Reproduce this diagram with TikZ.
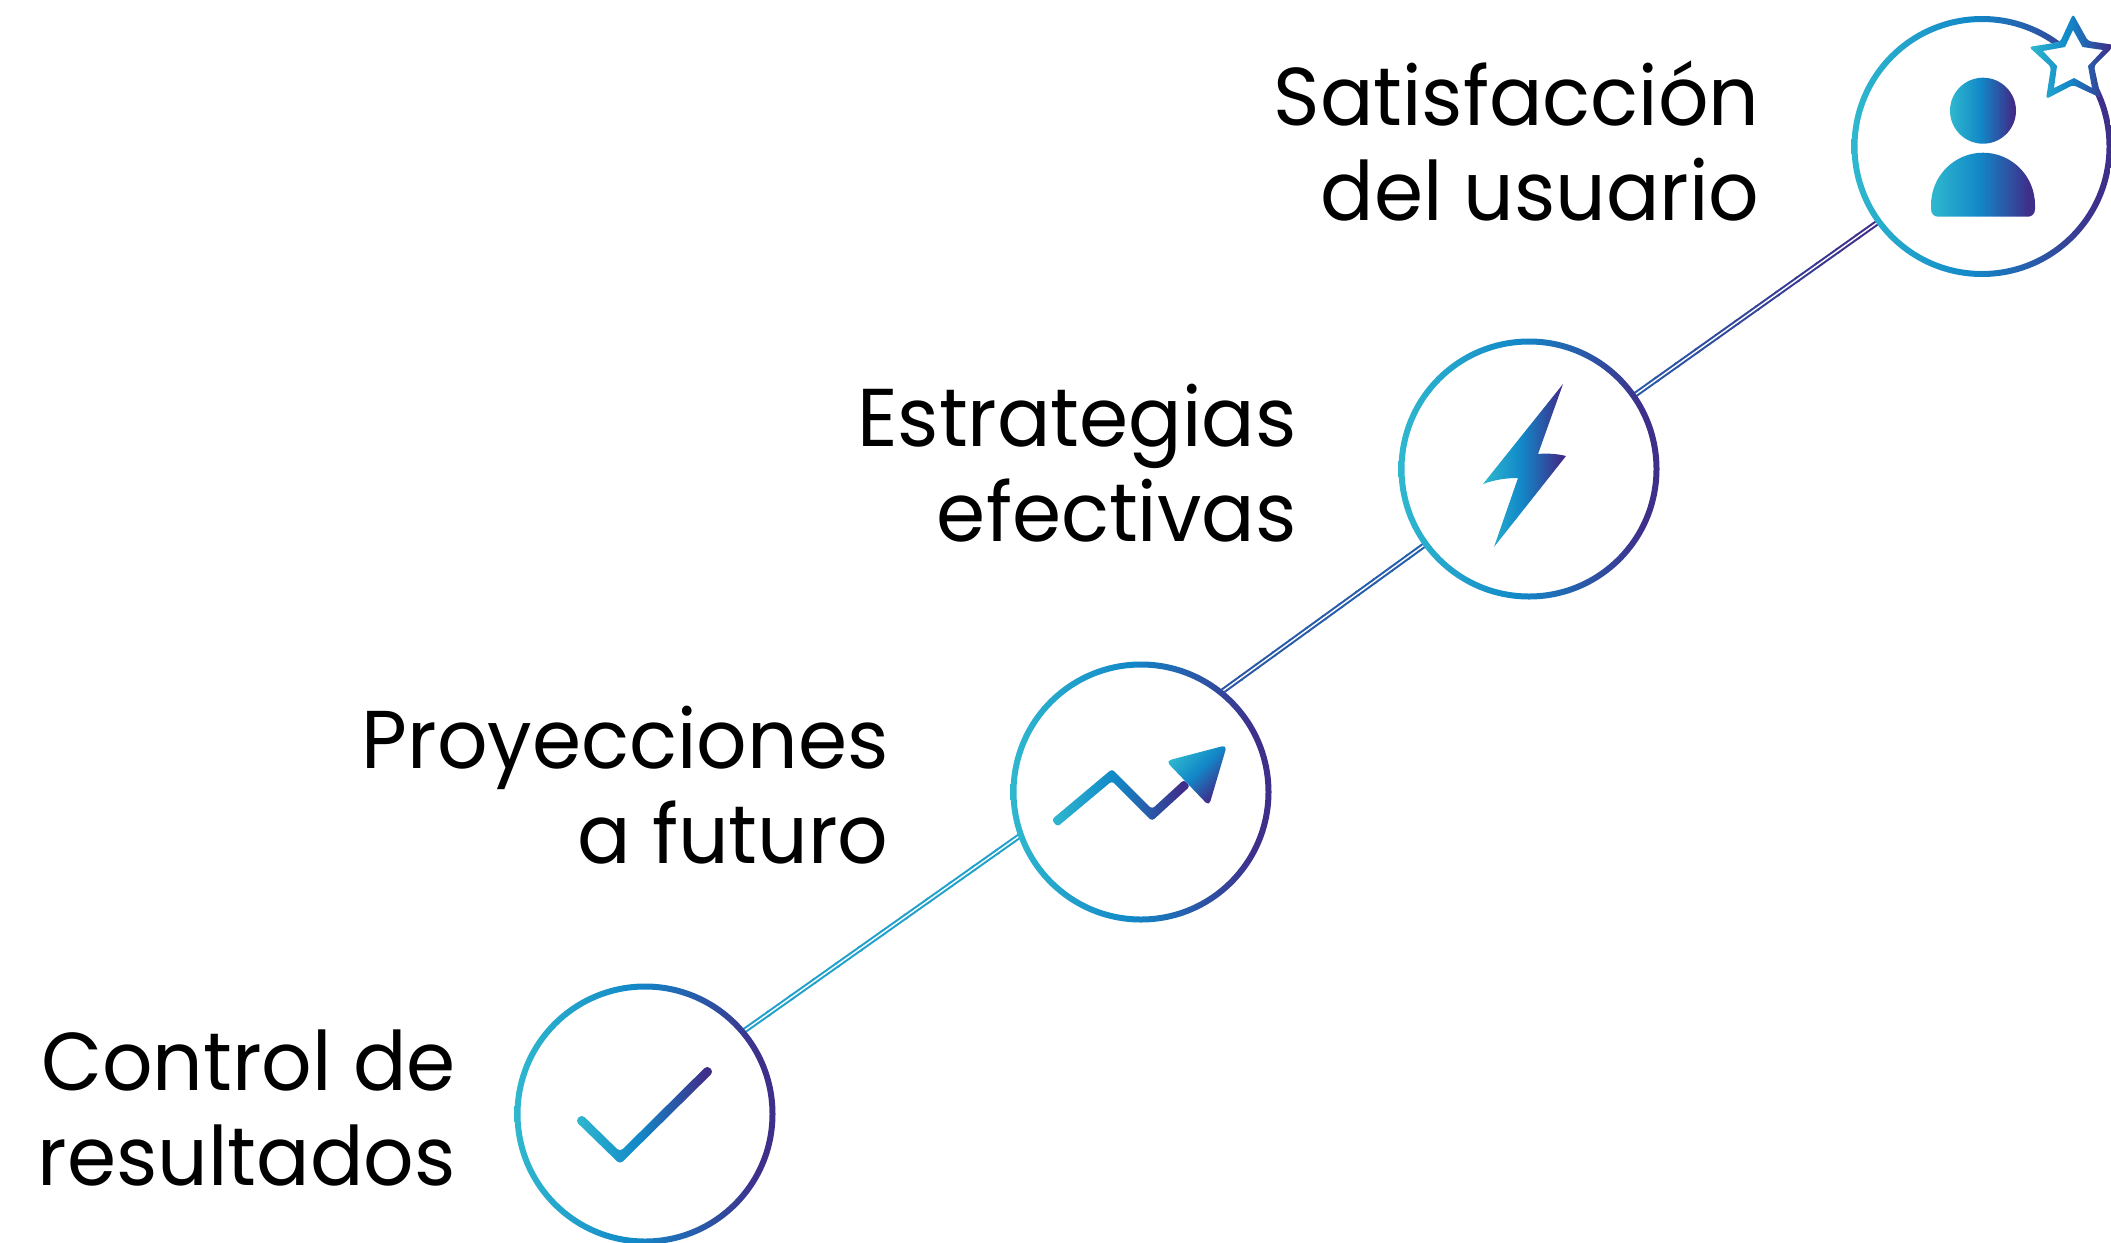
\documentclass[tikz,border=0pt]{standalone}
\usepackage{fontspec}
\setmainfont{Poppins}[FakeStretch=0.965]
\usetikzlibrary{calc}
\definecolor{gA}{HTML}{2FB8CE}
\definecolor{gB}{HTML}{1288C8}
\definecolor{gC}{HTML}{3F2E8A}
\pgfdeclarehorizontalshading{grad}{100bp}{color(0bp)=(gA);color(25bp)=(gA);color(48bp)=(gB);color(72bp)=(gC);color(100bp)=(gC)}
\tikzset{
  hub/.style={circle,minimum size=130pt,inner sep=0pt,outer sep=0pt},
  lab/.style={font=\fontsize{41pt}{47.5pt}\selectfont,align=right,anchor=east,inner sep=0pt,text=black},
  icon/.style={shading=grad,shading angle=0},
  link/.style={line width=2.8pt},
  gap/.style={white,line width=0.7pt}
}
\newcommand{\gradlink}[4]{%
  \foreach \i in {0,...,11}{%
    \pgfmathtruncatemacro\p{100-100*\i/11}%
    \draw[link,#3!\p!#4] ($(#1)!{\i/12}!(#2)$) -- ($(#1)!{(\i+1.1)/12}!(#2)$);
  }%
  \draw[gap] (#1) -- (#2);
}
\begin{document}
\begin{tikzpicture}[x=0.5pt,y=-0.5pt]
\useasboundingbox (0,0) rectangle (2111,1243);
% hubs
\node[hub] (n1) at (1982,146.5) {};
\node[hub] (n2) at (1529,469) {};
\node[hub] (n3) at (1141,792) {};
\node[hub] (n4) at (645,1114) {};
% connectors
\gradlink{n4.40}{n3.200}{gA}{gA!55!gB}
\gradlink{n3.51}{n2.216}{gB!85!gC}{gB!55!gC}
\gradlink{n2.35}{n1.216}{gB!50!gC}{gC}
% rings
\foreach \n in {n1,n2,n3,n4}{
  \shade[icon,even odd rule] (\n.center) circle (130.5) (\n.center) circle (124.5);
}
% person
\shade[icon] (1983,110.7) circle (33);
\shade[icon] (1931,205) arc[start angle=180,end angle=360,x radius=52,y radius=52.3]
  -- (2035,209) .. controls (2035,213.5) and (2032,216.7) .. (2028,216.7)
  -- (1938,216.7) .. controls (1934,216.7) and (1931,213.5) .. (1931,209) -- cycle;
% star
\fill[white] (2073,15) -- (2087,41) -- (2114,45) -- (2094,66) -- (2100,97) -- (2073,85) -- (2047,98) -- (2051,67) -- (2030,47) -- (2060,42) -- cycle;
\shade[icon,even odd rule,rounded corners=1.5pt]
  (2073,14) -- (2088,41) -- (2115,45) -- (2094,66) -- (2101,98) -- (2073,85) -- (2046,99) -- (2051,67) -- (2029,47) -- (2060,42) -- cycle
  [sharp corners] (2073,30) -- (2082.5,47) -- (2103,50) -- (2088,66) -- (2092,88) -- (2074,78) -- (2054,88) -- (2057,66) -- (2043,51) -- (2065,47) -- cycle;
% bolt
\shade[icon] (1563,384) -- (1538,454) .. controls (1548,453) and (1558,454) .. (1566,456)
  -- (1494,547) -- (1518,478) .. controls (1505,478) and (1494,480) .. (1483,484) -- cycle;
% trend arrow
\shade[icon,rounded corners=1.5pt] (1051.6,819.7) -- (1112,769) -- (1152,809) -- (1184,779.7) -- (1190,786.3) -- (1152,821) -- (1112,781) -- (1057.4,826.7) -- cycle;
\shade[shading=grad,shading angle=-45,rounded corners=2.5pt] (1166,761) -- (1227,745) -- (1209,806) -- cycle;
% check
\shade[icon,rounded corners=2pt] (575.3,1120.7) -- (581.7,1114.3) -- (620,1151.8) -- (707.3,1065.3) -- (713.7,1071.7) -- (620,1164.2) -- cycle;
% labels
\node[lab] (t1) at (1760,141) {Satisfacción\\del usuario};
\node[lab] (t2) at (1297,463) {Estrategias\\efectivas};
\node[lab] (t3) at (889,785) {Proyecciones\\a futuro};
\node[lab] (t4) at (456,1108) {Control de\\resultados};
\end{tikzpicture}
\end{document}
